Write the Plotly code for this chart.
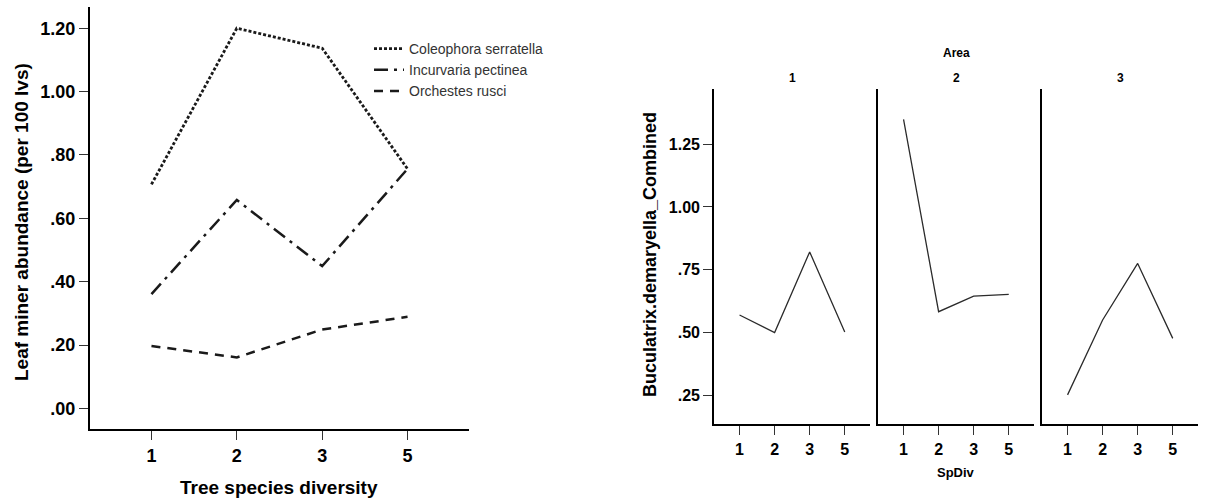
import plotly.graph_objects as go

# ---- data ----
diversity = ["1", "2", "3", "5"]
coleophora = [0.707, 1.200, 1.137, 0.756]
incurvaria = [0.361, 0.658, 0.449, 0.756]
orchestes = [0.197, 0.161, 0.249, 0.289]

left_ytick_vals = [0.0, 0.2, 0.4, 0.6, 0.8, 1.0, 1.2]
left_ytick_text = [".00", ".20", ".40", ".60", ".80", "1.00", "1.20"]

areas = ["1", "2", "3"]
buculatrix = {
    "1": [0.570, 0.500, 0.821, 0.502],
    "2": [1.348, 0.583, 0.645, 0.652],
    "3": [0.252, 0.550, 0.775, 0.477],
}
right_ytick_vals = [0.25, 0.50, 0.75, 1.00, 1.25]
right_ytick_text = [".25", ".50", ".75", "1.00", "1.25"]

# ---- layout helpers ----
W, H = 1205, 499
FONT = "Liberation Sans"


def px_x(p):
    return p / W


def px_y(p):
    return 1 - p / H


fig = go.Figure()

# left chart: three species lines
species = [
    ("Coleophora serratella", coleophora, "3px,2px", 2.8),
    ("Incurvaria pectinea", incurvaria, "14px,6px,3px,6px", 2.5),
    ("Orchestes rusci", orchestes, "9px,7px", 2.5),
]
for name, vals, dash, w in species:
    fig.add_trace(go.Scatter(
        x=diversity, y=vals, mode="lines", name=name,
        line=dict(color="#1a1a1a", width=w, dash=dash),
        xaxis="x", yaxis="y", showlegend=True,
    ))

# right chart: one panel per area
for i, a in enumerate(areas):
    k = i + 2
    fig.add_trace(go.Scatter(
        x=diversity, y=buculatrix[a], mode="lines",
        line=dict(color="#2b2b2b", width=1.3),
        xaxis=f"x{k}", yaxis=f"y{k}", showlegend=False,
    ))

axis_common = dict(
    showline=True, linecolor="black", linewidth=2.2,
    ticks="outside", ticklen=9, tickwidth=1.4, tickcolor="#333",
    showgrid=False, zeroline=False, fixedrange=True,
)

layout = dict(
    width=W, height=H,
    margin=dict(l=0, r=0, t=0, b=0),
    paper_bgcolor="white", plot_bgcolor="white",
    showlegend=True,
    legend=dict(
        x=px_x(369), y=px_y(33), xanchor="left", yanchor="top",
        font=dict(family=FONT, size=14, color="#333"),
        bgcolor="rgba(0,0,0,0)", tracegroupgap=0, itemwidth=30,
    ),
    xaxis=dict(
        axis_common, domain=[px_x(90), px_x(469)], anchor="y",
        type="category", categoryorder="array", categoryarray=diversity,
        range=[-0.72, 3.72],
        tickfont=dict(family=FONT, size=18, weight="bold", color="black"),
    ),
    yaxis=dict(
        axis_common, domain=[px_y(429), px_y(7)], anchor="x",
        range=[-0.065, 1.267],
        tickvals=left_ytick_vals, ticktext=left_ytick_text,
        tickfont=dict(family=FONT, size=18, weight="bold", color="black"),
    ),
)

panels = [(714.3, 870.0), (878.3, 1034.0), (1042.3, 1198.0)]
for i, (x0, x1) in enumerate(panels):
    k = i + 2
    layout[f"xaxis{k}"] = dict(
        axis_common, domain=[px_x(x0), px_x(x1)], anchor=f"y{k}",
        type="category", categoryorder="array", categoryarray=diversity,
        range=[-0.72, 3.72],
        tickfont=dict(family=FONT, size=16, weight="bold", color="black"),
    )
    ydict = dict(
        axis_common, domain=[px_y(424.3), px_y(89.3)], anchor=f"x{k}",
        range=[0.135, 1.468],
        tickvals=right_ytick_vals, ticktext=right_ytick_text,
        tickfont=dict(family=FONT, size=16, weight="bold", color="black"),
    )
    if k > 2:
        ydict.update(ticks="", showticklabels=False)
    layout[f"yaxis{k}"] = ydict

fig.update_layout(**layout)

# titles and labels
def label(text, x, y, size, angle=0):
    fig.add_annotation(
        text=text, x=px_x(x), y=px_y(y), xref="paper", yref="paper",
        showarrow=False, textangle=angle, xanchor="center", yanchor="middle",
        font=dict(family=FONT, size=size, weight="bold", color="black"),
    )

label("Tree species diversity", 279, 487, 19)
label("Leaf miner abundance (per 100 lvs)", 21, 222, 19, -90)
label("Buculatrix.demaryella_Combined", 650, 255, 18, -90)
label("SpDiv", 956, 472, 13)
label("Area", 956, 53, 12)
for a, (x0, x1) in zip(areas, panels):
    label(a, (x0 + x1) / 2, 78, 12)

fig.write_html("out.html")
